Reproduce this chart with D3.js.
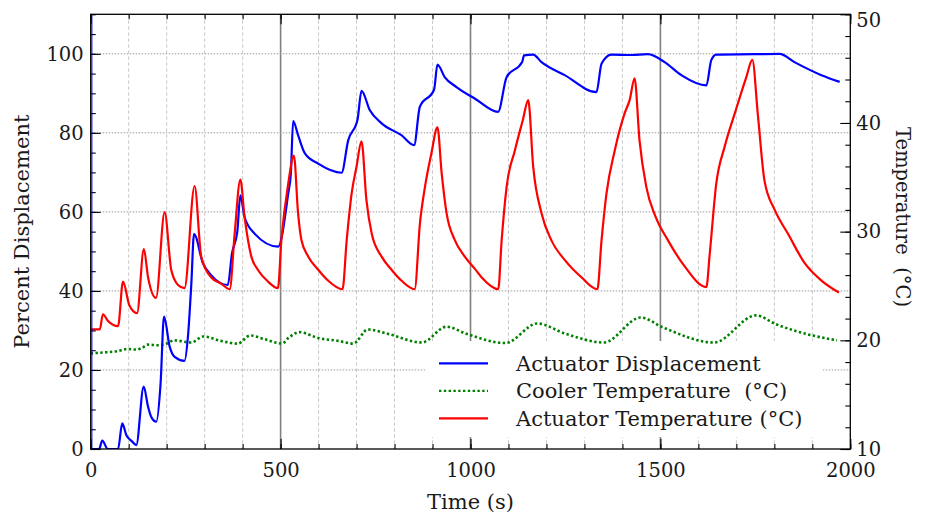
<!DOCTYPE html>
<html>
<head>
<meta charset="utf-8">
<script src="https://cdn.jsdelivr.net/npm/d3@7"></script>
<style>
  html, body { margin: 0; padding: 0; background: #fff; }
  svg { display: block; font-family: "DejaVu Serif", "Liberation Serif", serif; }
</style>
</head>
<body>
<div id="chart"></div>
<script>
// Actuator displacement (%) vs time (s) — left axis
const dispT = [0, 22, 30.5, 45, 72, 83, 94, 108, 120, 139.5, 151, 160, 172.7, 184, 193, 208, 221, 247,
  256, 265, 272, 295.5, 317, 361, 372, 386, 394, 405, 431.5, 493.5, 520, 527, 533, 546, 564, 599, 660.5,
  678, 702.6, 713, 735, 766, 818, 851.6, 866.6, 904, 913, 932, 963, 1011, 1072.6, 1095, 1136, 1141, 1165,
  1187, 1248, 1331.6, 1345, 1371, 1424, 1467, 1511, 1555, 1621, 1634, 1647, 1747, 1814, 1853, 1924, 1972];
const dispV = [0, 0, 2.1, 0, 0, 6.5, 3.5, 2.0, 1.0, 15.8, 10.7, 8, 6.9, 16.6, 33.5, 25.9, 23.3, 22.3,
  28.4, 41.9, 54.4, 47, 44, 41.5, 49.5, 55, 64.2, 58.7, 54.5, 51.2, 64.6, 69.7, 83.0, 79.4, 74.8, 72.2, 69.9,
  78.1, 83.4, 90.6, 85.7, 82.4, 79.4, 76.9, 86.6, 90.9, 97.3, 94.1, 91.6, 88.7, 85.3, 94.1, 97.9, 99.6, 99.8,
  97.9, 94.6, 90.3, 97.5, 99.8, 99.7, 99.9, 97.9, 94.6, 92.0, 98.4, 99.8, 99.9, 100.0, 97.9, 94.6, 92.9];

// Cooler temperature (°C) — right axis
const coolT = [0, 40, 70, 96, 120, 135, 150, 177, 200, 219, 264, 297, 342, 387, 420, 458, 504, 520, 549,
  601, 652, 691, 730, 782, 872, 937, 989, 1092, 1176, 1247, 1351, 1448, 1506, 1641, 1752, 1803, 1894, 1965];
const coolV = [18.8, 18.9, 19.0, 19.2, 19.15, 19.3, 19.6, 19.55, 19.7, 20.0, 19.8, 20.35, 19.95, 19.7, 20.45,
  20.1, 19.7, 20.2, 20.75, 20.2, 19.95, 19.7, 21.0, 20.6, 19.8, 21.25, 20.6, 19.75, 21.55, 20.65, 19.8, 22.1,
  21.2, 19.8, 22.3, 21.5, 20.5, 20.0];

// Actuator temperature (°C) — right axis
const actT = [0, 24, 32, 45, 72, 85, 102, 122, 140, 151, 172, 194.6, 212, 230, 247, 273.6, 291, 317, 344,
  366, 379, 394, 405, 423, 440, 467, 493, 502, 520, 535, 546, 555, 573, 599, 625, 663, 674, 687, 700, 713,
  726, 740, 766, 792, 818, 853, 867, 880, 897, 913, 924, 937, 959, 985, 1011, 1029, 1073, 1082, 1095, 1117,
  1138, 1152, 1165, 1187, 1213, 1248, 1292, 1334, 1345, 1358, 1380, 1406, 1419, 1432, 1445, 1463, 1487,
  1520, 1564, 1621, 1630, 1647, 1669, 1696, 1726, 1742, 1757, 1774, 1801, 1836, 1880, 1924, 1970];
const actV = [21.0, 21.0, 22.4, 21.8, 21.3, 25.4, 23.2, 22.5, 28.4, 25.8, 23.9, 31.8, 26.5, 25.1, 24.8,
  34.2, 27.7, 25.8, 25.2, 24.7, 29.8, 34.8, 31.4, 27.7, 26.5, 25.4, 24.8, 29.2, 34.4, 37.0, 31.7, 29.2,
  27.7, 26.5, 25.5, 24.7, 29.2, 33.5, 36.0, 38.3, 32.9, 29.8, 27.7, 26.5, 25.5, 24.7, 30.8, 34.1, 37.2, 39.6,
  35.4, 31.7, 29.2, 27.7, 26.6, 25.8, 24.7, 29.2, 34.1, 37.5, 40.3, 42.1, 36.0, 31.7, 29.2, 27.4, 25.8, 24.7,
  29.2, 33.5, 37.5, 40.9, 42.1, 44.1, 38.4, 34.1, 31.4, 29.2, 26.8, 24.9, 28.0, 34.4, 37.8, 40.9, 44.2,
  45.8, 40.6, 34.7, 32.0, 29.8, 27.1, 25.5, 24.4];

const xTicks = [0, 500, 1000, 1500, 2000];
const yLeftTicks = [0, 20, 40, 60, 80, 100];
const yRightTicks = [10, 20, 30, 40, 50];

const legendItems = [
  { label: "Actuator Displacement", color: "#0000ff", dash: null },
  { label: "Cooler Temperature  (°C)", color: "#008000", dash: "2.4,2.4" },
  { label: "Actuator Temperature (°C)", color: "#ff0000", dash: null },
];

const W = 927, H = 517;
const L = 90.7, R = 850.3, T = 14.3, B = 449;
const fs = 19.5, fsBig = 21, ink = "#1a1a1a";

const svg = d3.select("#chart").append("svg")
  .attr("width", W).attr("height", H).attr("viewBox", `0 0 ${W} ${H}`);

const x = d3.scaleLinear().domain([0, 2000]).range([L, R]);
const yL = d3.scaleLinear().domain([0, 110]).range([B, T]);
const yR = d3.scaleLinear().domain([10, 50]).range([B, T]);

svg.append("clipPath").attr("id", "clip")
  .append("rect").attr("x", L).attr("y", T).attr("width", R - L).attr("height", B - T);

// grid
const grid = svg.append("g");
d3.range(100, 2000, 100).filter(v => v % 500 !== 0).forEach(v => {
  grid.append("line").attr("x1", x(v)).attr("x2", x(v)).attr("y1", T).attr("y2", B)
    .attr("stroke", "#c8c8c8").attr("stroke-width", 1).attr("stroke-dasharray", "3.5,2.5");
});
[500, 1000, 1500].forEach(v => {
  grid.append("line").attr("x1", x(v)).attr("x2", x(v)).attr("y1", T).attr("y2", B)
    .attr("stroke", "#808080").attr("stroke-width", 1.6);
});
yLeftTicks.filter(v => v > 0).forEach(v => {
  grid.append("line").attr("x1", L).attr("x2", R).attr("y1", yL(v)).attr("y2", yL(v))
    .attr("stroke", "#9a9a9a").attr("stroke-width", 1).attr("stroke-dasharray", "1.5,1.5");
});

// legend background sits over the grid but under the curves
svg.append("rect").attr("x", 425).attr("y", 341).attr("width", 398).attr("height", 96).attr("fill", "#fff");

// data
const plot = svg.append("g").attr("clip-path", "url(#clip)");
const lineFor = (ts, vs, y) => d3.line().curve(d3.curveMonotoneX)
  .x((d, i) => x(ts[i])).y((d, i) => y(vs[i]))(vs);

plot.append("path").attr("d", lineFor(coolT, coolV, yR))
  .attr("fill", "none").attr("stroke", "#008000").attr("stroke-width", 2.6)
  .attr("stroke-dasharray", "2.4,2.4");
plot.append("path").attr("d", lineFor(dispT, dispV, yL))
  .attr("fill", "none").attr("stroke", "#0000ff").attr("stroke-width", 2.2);
plot.append("path").attr("d", lineFor(actT, actV, yR))
  .attr("fill", "none").attr("stroke", "#ff0000").attr("stroke-width", 2.2);

// legend entries
const lg = svg.append("g");
legendItems.forEach((d, i) => {
  const yy = 363.3 + i * 27.5;
  lg.append("line").attr("x1", 439).attr("x2", 488).attr("y1", yy).attr("y2", yy)
    .attr("stroke", d.color).attr("stroke-width", 2.2)
    .attr("stroke-dasharray", d.dash);
  lg.append("text").attr("x", 516).attr("y", yy + 7.5).attr("font-size", fsBig).attr("fill", ink)
    .style("white-space", "pre")
    .text(d.label);
});

// axes (inward ticks on all four sides)
function styleAxis(g) {
  g.select(".domain").remove();
  g.selectAll(".tick line").attr("stroke", "#000").attr("stroke-width", 1.1);
  g.selectAll("text").attr("font-size", fs).attr("fill", ink)
    .attr("font-family", "DejaVu Serif, Liberation Serif, serif");
}
const minorX = d3.range(0, 2001, 100);
svg.append("g").attr("transform", `translate(0,${B})`)
  .call(d3.axisBottom(x).tickValues(minorX).tickSize(-5).tickFormat("")).call(styleAxis);
svg.append("g").attr("transform", `translate(0,${B})`)
  .call(d3.axisBottom(x).tickValues(xTicks).tickSize(-10).tickPadding(14).tickFormat(d3.format("d")))
  .call(styleAxis);
svg.append("g").attr("transform", `translate(0,${T})`)
  .call(d3.axisTop(x).tickValues(minorX).tickSize(-5).tickFormat("")).call(styleAxis);
svg.append("g").attr("transform", `translate(0,${T})`)
  .call(d3.axisTop(x).tickValues(xTicks).tickSize(-10).tickFormat("")).call(styleAxis);

svg.append("g").attr("transform", `translate(${L},0)`)
  .call(d3.axisLeft(yL).tickValues(d3.range(0, 111, 5)).tickSize(-5).tickFormat("")).call(styleAxis);
svg.append("g").attr("transform", `translate(${L},0)`)
  .call(d3.axisLeft(yL).tickValues(yLeftTicks).tickSize(-10).tickPadding(7).tickFormat(d3.format("d")))
  .call(styleAxis);
svg.append("g").attr("transform", `translate(${R},0)`)
  .call(d3.axisRight(yR).tickValues(d3.range(10, 51, 2)).tickSize(-5).tickFormat("")).call(styleAxis);
const rightAxis = svg.append("g").attr("transform", `translate(${R},0)`)
  .call(d3.axisRight(yR).tickValues(yRightTicks).tickSize(-10).tickPadding(6).tickFormat(d3.format("d")))
  .call(styleAxis);
// top label sits a little below its tick, as in the original
rightAxis.selectAll(".tick text").filter(d => d === 50).attr("y", 6);

// frame
svg.append("rect").attr("x", L).attr("y", T).attr("width", R - L).attr("height", B - T)
  .attr("fill", "none").attr("stroke", "#000").attr("stroke-width", 1.3);
svg.append("line").attr("x1", L + 1.2).attr("x2", L + 1.2).attr("y1", T + 1).attr("y2", B)
  .attr("stroke", "#0000cc").attr("stroke-width", 1);

// axis titles
svg.append("text").attr("x", (L + R) / 2).attr("y", 509).attr("text-anchor", "middle")
  .attr("font-size", fsBig).attr("fill", ink).text("Time (s)");
svg.append("text").attr("transform", `translate(29,${(T + B) / 2}) rotate(-90)`)
  .attr("text-anchor", "middle").attr("font-size", fsBig).attr("fill", ink).text("Percent Displacement");
svg.append("text").attr("transform", `translate(896,217) rotate(90)`)
  .attr("text-anchor", "middle").attr("font-size", fs).attr("fill", ink)
  .style("white-space", "pre").text("Temperature  (°C)");
</script>
</body>
</html>
